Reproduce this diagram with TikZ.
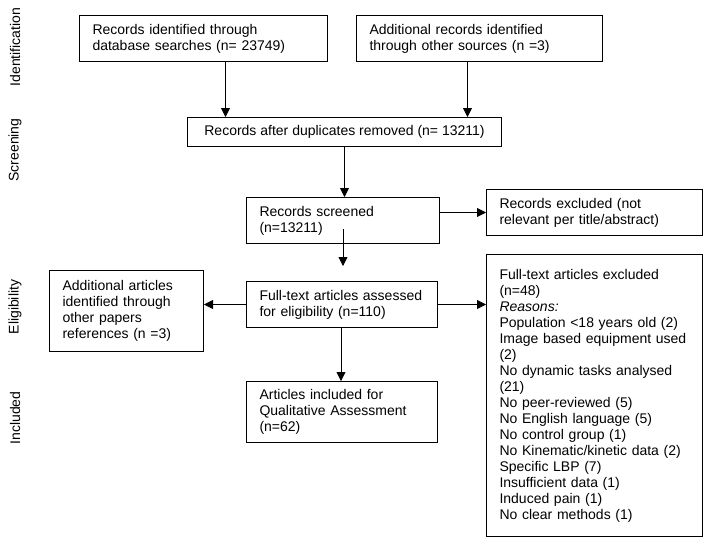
\documentclass[tikz,border=0pt]{standalone}
\usepackage{fontspec}
\setmainfont{Liberation Sans}
\usetikzlibrary{arrows.meta,calc}
\tikzset{
  box/.style={draw=black, line width=1pt, rectangle, anchor=north west, inner xsep=13pt, inner ysep=0pt, align=left, font=\fontsize{14}{16}\selectfont},
  arr/.style={draw=black, line width=0.8pt, -{Triangle[length=9pt,width=9pt]}},
  phase/.style={rotate=90, font=\fontsize{14}{16}\selectfont, inner sep=0pt}
}
\begin{document}
\begin{tikzpicture}[x=1pt,y=1pt]
\useasboundingbox[fill=white] (0,0) rectangle (706,-539);
% phase labels
\node[phase] (p1) at (15,-47) {Identification};
\node[phase] (p2) at (15,-150) {Screening};
\node[phase] (p3) at (15,-307) {Eligibility};
\node[phase] (p4) at (15,-418) {Included};
% boxes
\node[box, minimum width=248pt, minimum height=46pt, text width=222pt] (b1) at (79,-15) {Records identified through\\database searches (n= 23749)};
\node[box, minimum width=246pt, minimum height=46pt, text width=220pt] (b2) at (356,-15) {Additional records identified\\through other sources (n =3)};
\node[box, minimum width=314pt, minimum height=29pt] (b3) at (187,-117) {Records after duplicates removed (n= 13211)};
\node[box, minimum width=193pt, minimum height=46pt, text width=167pt] (b4) at (246,-197) {Records screened\\(n=13211)};
\node[box, minimum width=216pt, minimum height=46pt, text width=190pt] (b5) at (486,-189) {Records excluded (not\\relevant per title/abstract)};
\node[box, minimum width=191pt, minimum height=46pt, text width=165pt] (b6) at (246,-281) {Full-text articles assessed\\for eligibility (n=110)};
\node[box, minimum width=154pt, minimum height=81pt, text width=128pt] (b7) at (49,-270) {Additional articles\\identified through\\other papers\\references (n =3)};
\node[box, minimum width=216pt, minimum height=282pt, text width=190pt] (b8) at (486,-254) {Full-text articles excluded\\(n=48)\\\textit{Reasons:}\\Population <18 years old (2)\\Image based equipment used\\(2)\\No dynamic tasks analysed\\(21)\\No peer-reviewed (5)\\No English language (5)\\No control group (1)\\No Kinematic/kinetic data (2)\\Specific LBP (7)\\Insufficient data (1)\\Induced pain (1)\\No clear methods (1)};
\node[box, minimum width=191pt, minimum height=61pt, text width=165pt] (b9) at (246,-381) {Articles included for\\Qualitative Assessment\\(n=62)};
% connectors
\draw[arr] ([xshift=22pt]b1.south) -- ([xshift=22pt]b1.south |- b3.north);
\draw[arr] ([xshift=-12pt]b2.south) -- ([xshift=-12pt]b2.south |- b3.north);
\draw[arr] (b3.south) -- (b3.south |- b4.north);
\draw[arr] (b4.east |- b5.west) -- (b5.west);
\draw[arr] ([yshift=15pt]b4.south) -- ([yshift=15pt]b4.south |- b6.north);
\draw[arr] (b6.west) -- (b6.west -| b7.east);
\draw[arr] (b6.east) -- (b6.east -| b8.west);
\draw[arr] ([xshift=-1pt]b6.south) -- ([xshift=-1pt]b6.south |- b9.north);
\end{tikzpicture}
\end{document}
